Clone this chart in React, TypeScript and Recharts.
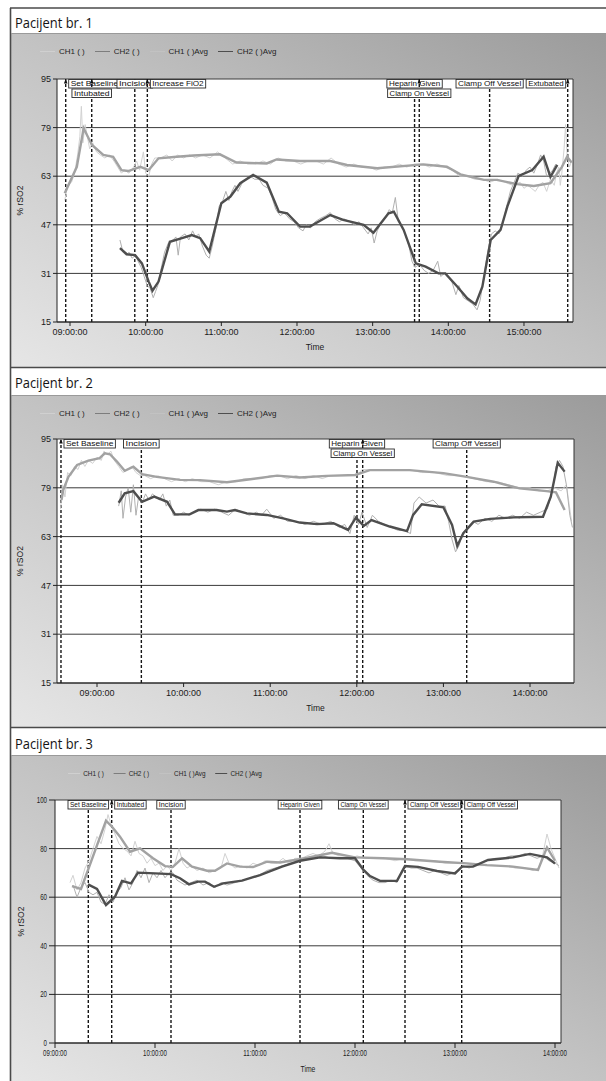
import React from "react";
import { LineChart, Line, XAxis, YAxis, CartesianGrid, ReferenceLine } from "recharts";

type Pt = [number, number];
type Ev = [number, string];

// time in decimal hours, value in % rSO2

// Pacijent br. 1
const p1Ch1Raw: Pt[] = [
  [8.93, 55], [8.97, 60], [9.02, 61], [9.06, 64], [9.1, 70], [9.13, 76], [9.15, 86], [9.17, 74], [9.2, 80],
  [9.23, 76], [9.26, 72], [9.3, 74], [9.35, 71], [9.4, 70], [9.46, 69], [9.52, 70], [9.58, 68], [9.63, 66],
  [9.68, 64], [9.72, 65], [9.78, 64], [9.84, 66], [9.88, 68], [9.92, 65], [9.97, 71], [10.0, 64], [10.04, 63],
  [10.08, 67], [10.12, 69], [10.2, 69], [10.28, 70], [10.35, 68], [10.42, 70], [10.5, 69], [10.58, 70],
  [10.66, 69], [10.75, 70], [10.85, 69], [10.95, 71], [11.05, 69], [11.15, 67], [11.25, 68], [11.35, 67],
  [11.45, 67], [11.55, 68], [11.65, 67], [11.75, 69], [11.85, 68], [11.95, 68], [12.05, 67], [12.15, 68],
  [12.25, 68], [12.35, 67], [12.45, 69], [12.55, 67], [12.65, 66], [12.75, 67], [12.85, 66], [12.95, 66],
  [13.05, 65], [13.15, 66], [13.25, 66], [13.35, 67], [13.45, 66], [13.55, 67], [13.65, 67], [13.75, 66],
  [13.85, 67], [13.95, 66], [14.05, 65], [14.15, 63], [14.25, 63], [14.35, 62], [14.45, 62], [14.55, 61],
  [14.65, 62], [14.75, 61], [14.85, 60], [14.95, 61], [15.0, 59], [15.05, 60], [15.1, 59], [15.15, 58],
  [15.2, 60], [15.25, 61], [15.3, 58], [15.35, 62], [15.4, 60], [15.43, 64], [15.46, 66], [15.48, 60],
  [15.5, 64], [15.53, 72], [15.55, 80], [15.57, 70], [15.6, 66], [15.63, 68],
];
const p1Ch2Raw: Pt[] = [
  [9.66, 42], [9.7, 38], [9.74, 37], [9.78, 38], [9.82, 36], [9.87, 37], [9.9, 35], [9.94, 33], [9.98, 30],
  [10.02, 27], [10.06, 26], [10.1, 23], [10.13, 25], [10.16, 27], [10.2, 32], [10.25, 38], [10.3, 41],
  [10.36, 42], [10.4, 43], [10.43, 37], [10.46, 43], [10.52, 44], [10.57, 42], [10.62, 45], [10.66, 43],
  [10.7, 44], [10.75, 40], [10.8, 37], [10.84, 36], [10.88, 40], [10.93, 46], [10.97, 53], [11.02, 55],
  [11.06, 58], [11.1, 55], [11.14, 58], [11.18, 60], [11.22, 58], [11.28, 61], [11.33, 62], [11.38, 63],
  [11.44, 62], [11.5, 62], [11.55, 60], [11.62, 59], [11.67, 56], [11.72, 52], [11.78, 50], [11.83, 51],
  [11.9, 49], [11.96, 48], [12.02, 46], [12.08, 45], [12.12, 47], [12.18, 46], [12.24, 48], [12.3, 49],
  [12.38, 50], [12.44, 51], [12.5, 49], [12.56, 48], [12.62, 49], [12.7, 48], [12.76, 47], [12.82, 48],
  [12.88, 46], [12.94, 44], [12.98, 46], [13.02, 41], [13.06, 45], [13.12, 48], [13.18, 50], [13.22, 52],
  [13.26, 51], [13.3, 56], [13.34, 48], [13.38, 47], [13.43, 44], [13.48, 40], [13.52, 35], [13.56, 33],
  [13.62, 34], [13.68, 32], [13.74, 31], [13.8, 32], [13.86, 35], [13.9, 30], [13.95, 31], [14.0, 30],
  [14.05, 28], [14.1, 24], [14.14, 27], [14.2, 23], [14.26, 22], [14.32, 21], [14.38, 19], [14.42, 22],
  [14.47, 30], [14.52, 38], [14.57, 44], [14.62, 45], [14.67, 44], [14.72, 47], [14.76, 52], [14.82, 58],
  [14.87, 61], [14.92, 64], [14.98, 63], [15.03, 65], [15.08, 66], [15.13, 64], [15.18, 67], [15.22, 70],
  [15.26, 68], [15.3, 63], [15.34, 64], [15.38, 65], [15.42, 67],
];
const p1Ch1Avg: Pt[] = [
  [8.93, 57.4], [9.09, 66.1], [9.18, 78.8], [9.29, 73.3], [9.44, 70.0], [9.57, 69.4], [9.68, 65.0],
  [9.77, 64.7], [9.93, 66.1], [10.04, 65.0], [10.17, 68.9], [10.41, 69.4], [10.63, 69.8], [10.98, 70.2],
  [11.2, 67.5], [11.6, 67.2], [11.73, 68.5], [12.04, 68.0], [12.44, 68.0], [12.66, 66.7], [13.06, 65.6],
  [13.67, 66.9], [13.98, 66.1], [14.16, 63.6], [14.47, 61.8], [14.64, 61.8], [14.91, 60.4], [15.13, 59.8],
  [15.35, 60.7], [15.5, 66.0], [15.57, 69.4], [15.63, 67.5],
];
const p1Ch2Avg: Pt[] = [
  [9.66, 39.3], [9.75, 37.3], [9.86, 37.0], [9.95, 34.3], [10.04, 28.3], [10.09, 25.3], [10.17, 28.3],
  [10.32, 41.4], [10.48, 42.6], [10.61, 43.6], [10.72, 42.6], [10.84, 38.2], [11.0, 54.1], [11.12, 56.3],
  [11.25, 60.7], [11.42, 63.4], [11.6, 60.9], [11.76, 51.3], [11.87, 50.8], [12.04, 46.4], [12.17, 46.4],
  [12.44, 50.2], [12.61, 48.6], [12.88, 47.0], [13.01, 44.4], [13.21, 50.8], [13.28, 51.3], [13.41, 45.3],
  [13.57, 34.3], [13.7, 33.2], [13.87, 31.0], [13.96, 31.0], [14.12, 26.6], [14.25, 22.8], [14.36, 20.8],
  [14.45, 26.6], [14.56, 42.0], [14.69, 45.3], [14.78, 53.0], [14.93, 63.1], [15.11, 65.0], [15.26, 69.4],
  [15.35, 62.8], [15.44, 66.7],
];
const p1Events: Ev[] = [
  [8.943, "Set Baseline"], [9.287, "Intubated"], [9.856, "Incision"], [10.022, "Increase FiO2"],
  [13.554, "Heparin Given"], [13.616, "Clamp On Vessel"], [14.546, "Clamp Off Vessel"], [15.578, "Extubated"],
];
const p1Hours = [9, 10, 11, 12, 13, 14, 15];
const p1YTicks = [15, 31, 47, 63, 79, 95];

// Pacijent br. 2
const p2Ch1Raw: Pt[] = [
  [8.58, 72], [8.6, 80], [8.63, 76], [8.66, 84], [8.7, 83], [8.74, 86], [8.78, 85], [8.82, 88], [8.86, 86],
  [8.9, 88], [8.95, 87], [9.0, 89], [9.05, 88], [9.08, 91], [9.12, 90], [9.16, 91], [9.2, 88], [9.25, 86],
  [9.3, 84], [9.35, 85], [9.4, 86], [9.45, 84], [9.5, 83], [9.55, 83], [9.62, 82], [9.7, 83], [9.78, 82],
  [9.86, 81], [9.94, 82], [10.02, 81], [10.1, 82], [10.2, 81], [10.3, 81], [10.4, 80], [10.5, 81], [10.6, 81],
  [10.7, 82], [10.8, 82], [10.9, 82], [11.0, 83], [11.1, 83], [11.2, 82], [11.3, 83], [11.4, 82], [11.5, 83],
  [11.6, 82], [11.7, 83], [11.8, 83], [11.9, 83], [12.0, 83], [12.06, 85], [12.15, 85], [12.3, 85],
  [12.45, 85], [12.6, 85], [12.75, 84], [12.9, 84], [13.05, 83], [13.2, 83], [13.35, 82], [13.5, 81],
  [13.62, 81], [13.75, 80], [13.88, 79], [14.0, 79], [14.1, 78], [14.2, 78], [14.28, 79], [14.36, 78],
  [14.42, 80], [14.45, 74], [14.48, 68],
];
const p2Ch2Raw: Pt[] = [
  [9.25, 73], [9.28, 78], [9.3, 69], [9.33, 76], [9.36, 79], [9.39, 71], [9.42, 80], [9.45, 70], [9.48, 76],
  [9.52, 74], [9.56, 77], [9.6, 75], [9.64, 77], [9.68, 76], [9.72, 75], [9.76, 77], [9.8, 73], [9.84, 75],
  [9.88, 70], [9.94, 70], [10.0, 71], [10.06, 70], [10.12, 71], [10.2, 72], [10.28, 71], [10.36, 72],
  [10.44, 71], [10.52, 70], [10.6, 72], [10.68, 71], [10.76, 70], [10.84, 71], [10.9, 70], [10.96, 72],
  [11.04, 69], [11.12, 70], [11.2, 68], [11.3, 68], [11.4, 67], [11.5, 68], [11.6, 67], [11.7, 68],
  [11.8, 66], [11.86, 67], [11.92, 64], [11.97, 70], [12.02, 67], [12.06, 71], [12.12, 66], [12.18, 70],
  [12.25, 68], [12.32, 67], [12.4, 66], [12.48, 65], [12.55, 65], [12.62, 64], [12.66, 74], [12.72, 76],
  [12.8, 74], [12.88, 75], [12.95, 73], [13.02, 73], [13.06, 68], [13.1, 62], [13.14, 58], [13.18, 60],
  [13.22, 64], [13.28, 66], [13.34, 68], [13.4, 67], [13.48, 69], [13.56, 68], [13.64, 70], [13.72, 69],
  [13.8, 70], [13.88, 69], [13.96, 71], [14.04, 70], [14.12, 71], [14.2, 72], [14.26, 78], [14.3, 86],
  [14.34, 88], [14.38, 86], [14.42, 80], [14.46, 70], [14.49, 66],
];
const p2Ch1Avg: Pt[] = [
  [8.59, 75.0], [8.61, 78.3], [8.67, 82.6], [8.77, 86.5], [8.9, 87.9], [9.03, 88.7], [9.09, 90.3],
  [9.15, 90.0], [9.23, 87.6], [9.32, 84.6], [9.42, 85.9], [9.52, 83.5], [9.69, 82.6], [9.96, 81.6],
  [10.19, 81.5], [10.5, 80.8], [10.77, 81.8], [11.08, 83.0], [11.34, 82.4], [11.65, 82.9], [11.98, 83.2],
  [12.15, 84.8], [12.61, 84.8], [13.0, 83.8], [13.27, 82.6], [13.58, 81.0], [13.88, 78.8], [14.19, 77.9],
  [14.3, 77.5], [14.4, 71.7],
];
const p2Ch2Avg: Pt[] = [
  [9.25, 74.1], [9.32, 77.2], [9.42, 77.9], [9.52, 74.4], [9.66, 76.1], [9.81, 74.4], [9.9, 70.3],
  [10.07, 70.3], [10.17, 71.7], [10.38, 71.7], [10.5, 71.2], [10.59, 71.7], [10.73, 70.6], [10.96, 70.1],
  [11.15, 69.0], [11.34, 67.6], [11.54, 67.1], [11.73, 67.4], [11.9, 65.2], [11.99, 69.2], [12.08, 66.5],
  [12.17, 68.4], [12.38, 66.3], [12.58, 64.8], [12.65, 70.1], [12.75, 73.6], [13.0, 72.6], [13.1, 66.8],
  [13.16, 59.9], [13.23, 64.1], [13.35, 67.9], [13.54, 68.8], [13.81, 69.3], [14.15, 69.5], [14.24, 76.1],
  [14.32, 87.2], [14.4, 84.3],
];
const p2Events: Ev[] = [
  [8.584, "Set Baseline"], [9.512, "Incision"], [12.002, "Heparin Given"], [12.068, "Clamp On Vessel"],
  [13.269, "Clamp Off Vessel"],
];
const p2Hours = [9, 10, 11, 12, 13, 14];
const p2YTicks = [15, 31, 47, 63, 79, 95];

// Pacijent br. 3
const p3Ch1Raw: Pt[] = [
  [9.15, 66], [9.18, 69], [9.22, 63], [9.26, 66], [9.3, 72], [9.34, 75], [9.38, 80], [9.42, 85], [9.46, 82],
  [9.5, 88], [9.53, 94], [9.56, 90], [9.6, 86], [9.64, 82], [9.68, 80], [9.72, 79], [9.76, 77], [9.8, 83],
  [9.84, 78], [9.88, 77], [9.92, 74], [9.96, 76], [10.0, 73], [10.04, 74], [10.08, 71], [10.12, 73],
  [10.16, 71], [10.2, 74], [10.24, 80], [10.28, 74], [10.32, 72], [10.36, 73], [10.42, 71], [10.48, 72],
  [10.54, 70], [10.6, 71], [10.66, 72], [10.7, 78], [10.74, 74], [10.8, 72], [10.86, 73], [10.92, 72],
  [10.98, 74], [11.04, 73], [11.1, 75], [11.16, 74], [11.22, 74], [11.28, 76], [11.34, 74], [11.4, 76],
  [11.46, 76], [11.52, 77], [11.58, 78], [11.64, 77], [11.7, 79], [11.74, 82], [11.78, 78], [11.84, 77],
  [11.9, 77], [11.96, 76], [12.02, 77], [12.1, 76], [12.2, 76], [12.3, 76], [12.4, 75], [12.5, 76],
  [12.6, 75], [12.7, 75], [12.8, 75], [12.9, 74], [13.0, 74], [13.1, 74], [13.2, 73], [13.3, 73], [13.4, 73],
  [13.5, 73], [13.6, 72], [13.7, 72], [13.78, 71], [13.84, 72], [13.88, 78], [13.92, 86], [13.96, 80],
  [14.0, 76], [14.04, 72],
];
const p3Ch2Raw: Pt[] = [
  [9.18, 65], [9.22, 60], [9.26, 64], [9.3, 66], [9.34, 62], [9.38, 61], [9.42, 62], [9.46, 58], [9.5, 57],
  [9.54, 61], [9.58, 58], [9.62, 62], [9.66, 64], [9.7, 68], [9.74, 63], [9.78, 66], [9.82, 71], [9.86, 68],
  [9.9, 72], [9.94, 66], [9.98, 70], [10.02, 68], [10.06, 71], [10.1, 68], [10.14, 70], [10.18, 70],
  [10.22, 67], [10.26, 66], [10.3, 65], [10.36, 66], [10.42, 67], [10.48, 65], [10.54, 66], [10.6, 64],
  [10.66, 66], [10.72, 65], [10.8, 66], [10.88, 67], [10.96, 68], [11.04, 69], [11.12, 71], [11.2, 72],
  [11.28, 73], [11.36, 74], [11.44, 75], [11.52, 76], [11.6, 76], [11.68, 77], [11.76, 76], [11.84, 76],
  [11.92, 76], [12.0, 75], [12.04, 73], [12.08, 71], [12.12, 69], [12.18, 67], [12.24, 66], [12.3, 66],
  [12.36, 67], [12.42, 66], [12.46, 70], [12.5, 73], [12.56, 72], [12.62, 72], [12.68, 71], [12.74, 70],
  [12.8, 71], [12.86, 70], [12.92, 69], [12.98, 70], [13.04, 71], [13.08, 73], [13.14, 72], [13.2, 73],
  [13.26, 74], [13.32, 75], [13.4, 76], [13.48, 76], [13.56, 77], [13.64, 77], [13.7, 78], [13.76, 77],
  [13.82, 76], [13.88, 77], [13.94, 75], [14.0, 74], [14.04, 73],
];
const p3Ch1Avg: Pt[] = [
  [9.17, 64.6], [9.26, 63.4], [9.33, 71.2], [9.51, 91.5], [9.57, 89.0], [9.65, 84.9], [9.75, 78.7],
  [9.85, 80.1], [9.98, 76.0], [10.1, 72.8], [10.18, 72.5], [10.27, 76.0], [10.37, 72.6], [10.52, 70.9],
  [10.6, 70.9], [10.72, 73.9], [10.85, 72.6], [10.98, 72.4], [11.12, 74.6], [11.25, 74.3], [11.35, 75.0],
  [11.45, 75.6], [11.77, 78.3], [12.0, 76.4], [12.28, 76.0], [12.52, 75.6], [12.85, 74.6], [13.12, 73.9],
  [13.32, 73.2], [13.58, 72.6], [13.83, 71.2], [13.92, 80.5], [14.0, 75.0],
];
const p3Ch2Avg: Pt[] = [
  [9.33, 65.3], [9.42, 63.4], [9.51, 56.8], [9.6, 60.2], [9.67, 66.7], [9.76, 65.7], [9.83, 70.1],
  [10.0, 69.8], [10.16, 69.5], [10.25, 67.8], [10.34, 65.3], [10.43, 66.4], [10.5, 66.4], [10.59, 64.3],
  [10.68, 65.7], [10.87, 66.8], [11.05, 69.1], [11.27, 72.6], [11.45, 75.0], [11.65, 76.4], [11.85, 76.0],
  [12.0, 76.0], [12.08, 71.5], [12.15, 68.7], [12.25, 66.7], [12.42, 66.7], [12.5, 72.8], [12.63, 72.5],
  [12.82, 70.8], [13.0, 69.8], [13.07, 72.6], [13.18, 72.6], [13.33, 75.3], [13.58, 76.4], [13.75, 77.8],
  [13.92, 76.4], [14.0, 73.9],
];
const p3Events: Ev[] = [
  [9.333, "Set Baseline"], [9.567, "Intubated"], [10.16, "Incision"], [11.45, "Heparin Given"],
  [12.083, "Clamp On Vessel"], [12.5, "Clamp Off Vessel"], [13.067, "Clamp Off Vessel"],
];
const p3Hours = [9, 10, 11, 12, 13, 14];
const p3YTicks = [0, 20, 40, 60, 80, 100];

const legendNames = ["CH1 ( )", "CH2 ( )", "CH1 ( )Avg", "CH2 ( )Avg"];

// tag placement (relative to each dashed line) and row of the tag
const p1TagAlign = ["left", "center", "center", "left", "center", "center", "center", "right"];
const p1TagRow = [0, 1, 0, 0, 0, 1, 0, 0];
const p2TagAlign = ["left", "center", "center", "center", "center"];
const p2TagRow = [0, 0, 0, 1, 0];
const p3TagAlign = ["center", "left", "center", "center", "center", "left", "left"];
const p3TagRow = [0, 0, 0, 0, 0, 0, 0];

const FONT = "'Liberation Sans', Arial, sans-serif";
const LINE = {
  ch1Raw: "#d2d2d2",
  ch2Raw: "#b0b0b0",
  ch1Avg: "#a2a2a2",
  ch2Avg: "#4e4e4e",
};
const swatch = ["#d0d0d0", "#7d7d7d", "#c2c2c2", "#4e4e4e"];

const rows = (pts: Pt[]) => pts.map(([t, v]) => ({ t, v }));
const hms = (h: number) => `${String(h).padStart(2, "0")}:00:00`;

function AxisTick(props: any) {
  const { x, y, payload, horizontal, sx, fs } = props;
  const txt = horizontal ? hms(payload.value) : String(payload.value);
  return (
    <g transform={`translate(${x},${y})`}>
      <text
        transform={`scale(${sx},1)`}
        textAnchor={horizontal ? "middle" : "end"}
        dy={horizontal ? "0.75em" : "0.35em"}
        fontSize={fs}
        fontFamily={FONT}
        fill="#1b1b1b"
      >
        {txt}
      </text>
    </g>
  );
}

function EventTag(props: any) {
  const { viewBox, text, align, row, narrow } = props;
  if (!viewBox) return null;
  const x = viewBox.x;
  const top = viewBox.y;
  const w = narrow ? text.length * 3.05 + 4 : text.length * 3.95 + 4;
  const h = 8.5;
  let bx = x - w / 2;
  if (align === "left") bx = x + 3;
  if (align === "right") bx = x - w - 2;
  const by = top + 0.5 + row * (h + 1);
  return (
    <g>
      <path d={`M${x},${top} L${x - 1.8},${top + 4.5} L${x + 1.8},${top + 4.5} Z`} fill="#111" />
      <rect x={bx} y={by} width={w} height={h} fill="#fff" stroke="#2a2a2a" strokeWidth={0.9} />
      <text
        x={bx + w / 2}
        y={by + h - 1.8}
        textAnchor="middle"
        fontSize={7.5}
        fontFamily={FONT}
        fill="#111"
        textLength={w - 4}
        lengthAdjust="spacingAndGlyphs"
      >
        {text}
      </text>
    </g>
  );
}

function XTitle(props: any) {
  const { viewBox, narrow } = props;
  if (!viewBox) return null;
  const cx = viewBox.x + viewBox.width / 2;
  const cy = viewBox.y + viewBox.height - 2;
  return (
    <text
      x={cx}
      y={cy}
      textAnchor="middle"
      fontSize={8.5}
      fontFamily={FONT}
      fill="#1b1b1b"
      transform={narrow ? `translate(${cx},0) scale(0.8,1) translate(${-cx},0)` : undefined}
    >
      Time
    </text>
  );
}

function YTitle(props: any) {
  const { viewBox, dx } = props;
  if (!viewBox) return null;
  const cx = viewBox.x + dx;
  const cy = viewBox.y + viewBox.height / 2;
  return (
    <text
      x={cx}
      y={cy}
      transform={`rotate(-90 ${cx} ${cy})`}
      textAnchor="middle"
      dominantBaseline="central"
      fontSize={8.5}
      fontFamily={FONT}
      fill="#1b1b1b"
    >
      % rSO2
    </text>
  );
}

function LegendRow({ left, top, narrow }: { left: number; top: number; narrow?: boolean }) {
  return (
    <div
      style={{
        position: "absolute",
        left,
        top: top - 5,
        height: 10,
        display: "flex",
        alignItems: "center",
        fontFamily: FONT,
        fontSize: 8,
        color: "#1e1e1e",
        whiteSpace: "nowrap",
        transform: narrow ? "scaleX(0.8)" : undefined,
        transformOrigin: "0 50%",
      }}
    >
      {legendNames.map((n, i) => (
        <span key={n} style={{ display: "flex", alignItems: "center", marginRight: narrow ? 12 : 10 }}>
          <span style={{ width: 15, borderTop: `1.5px solid ${swatch[i]}`, marginRight: 4 }} />
          {n}
        </span>
      ))}
    </div>
  );
}

interface PanelProps {
  top: number;
  height: number;
  margin: { top: number; right: number; left: number; bottom: number };
  xDomain: [number, number];
  hours: number[];
  yDomain: [number, number];
  yTicks: number[];
  raw1: Pt[];
  raw2: Pt[];
  avg1: Pt[];
  avg2: Pt[];
  events: Ev[];
  tagAlign: string[];
  tagRow: number[];
  xHeight: number;
  tickSize: number;
  narrow?: boolean;
}

function Panel(p: PanelProps) {
  const sx = p.narrow ? 0.72 : 1;
  const fs = p.narrow ? 8.5 : 9;
  return (
    <div style={{ position: "absolute", left: 0, top: p.top }}>
      <LineChart width={606} height={p.height} margin={p.margin}>
        <CartesianGrid vertical={false} stroke="#3a3a3a" strokeWidth={1} fill="#ffffff" fillOpacity={1} />
        <XAxis
          dataKey="t"
          type="number"
          domain={p.xDomain}
          ticks={p.hours}
          interval={0}
          allowDataOverflow
          height={p.xHeight}
          tickSize={p.tickSize}
          tickMargin={2}
          axisLine={{ stroke: "#222" }}
          tickLine={{ stroke: "#222" }}
          tick={(t: any) => <AxisTick {...t} horizontal sx={sx} fs={fs} />}
          label={<XTitle narrow={p.narrow} />}
        />
        <YAxis
          type="number"
          domain={p.yDomain}
          ticks={p.yTicks}
          interval={0}
          allowDataOverflow
          width={45}
          tickSize={p.tickSize + (p.narrow ? 1 : 0)}
          tickMargin={2}
          axisLine={{ stroke: "#222" }}
          tickLine={{ stroke: "#222" }}
          tick={(t: any) => <AxisTick {...t} sx={sx} fs={fs} />}
          label={<YTitle dx={p.narrow ? 11 : 8} />}
        />
        <ReferenceLine x={p.xDomain[1]} stroke="#333" strokeWidth={1} />
        {p.events.map(([t, name], i) => (
          <ReferenceLine
            key={`${name}-${i}`}
            x={t}
            stroke="#151515"
            strokeWidth={1.4}
            strokeDasharray="3 2"
            label={<EventTag text={name} align={p.tagAlign[i]} row={p.tagRow[i]} narrow={p.narrow} />}
          />
        ))}
        <Line data={rows(p.raw1)} dataKey="v" type="linear" dot={false} stroke={LINE.ch1Raw} strokeWidth={1} isAnimationActive={false} />
        <Line data={rows(p.raw2)} dataKey="v" type="linear" dot={false} stroke={LINE.ch2Raw} strokeWidth={1} isAnimationActive={false} />
        <Line data={rows(p.avg1)} dataKey="v" type="linear" dot={false} stroke={LINE.ch1Avg} strokeWidth={2.4} isAnimationActive={false} />
        <Line data={rows(p.avg2)} dataKey="v" type="linear" dot={false} stroke={LINE.ch2Avg} strokeWidth={2.4} isAnimationActive={false} />
      </LineChart>
    </div>
  );
}

const grayBg = "linear-gradient(to bottom left, #9b9b9b 0%, #c3c3c3 50%, #e6e6e6 100%)";

function Title({ y, text }: { y: number; text: string }) {
  return (
    <text x={15} y={y} fontSize={14.5} fontFamily="'Open Sans', 'Noto Sans', sans-serif" fill="#141414" textLength={78} lengthAdjust="spacingAndGlyphs">
      {text}
    </text>
  );
}

export default function App() {
  return (
    <div style={{ position: "absolute", left: 0, top: 0, width: 606, height: 1081, background: "#fff", overflow: "hidden" }}>
      <div style={{ position: "absolute", left: 11, top: 33, width: 595, height: 334, background: grayBg }} />
      <div style={{ position: "absolute", left: 11, top: 395, width: 595, height: 332, background: grayBg }} />
      <div style={{ position: "absolute", left: 11, top: 755, width: 595, height: 326, background: grayBg }} />
      <svg width={606} height={1081} style={{ position: "absolute", left: 0, top: 0 }}>
        <line x1={10.5} y1={8} x2={10.5} y2={1081} stroke="#4a4a4a" strokeWidth={1.6} />
        <line x1={10} y1={8} x2={606} y2={8} stroke="#4a4a4a" strokeWidth={1.5} />
        <line x1={10} y1={367.5} x2={606} y2={367.5} stroke="#4a4a4a" strokeWidth={1.5} />
        <line x1={10} y1={727.5} x2={606} y2={727.5} stroke="#4a4a4a" strokeWidth={1.5} />
        <line x1={11} y1={33.5} x2={606} y2={33.5} stroke="#9a9a9a" strokeWidth={1} />
        <line x1={11} y1={395.5} x2={606} y2={395.5} stroke="#9a9a9a" strokeWidth={1} />
        <line x1={11} y1={755.5} x2={606} y2={755.5} stroke="#9a9a9a" strokeWidth={1} />
        <Title y={28} text="Pacijent br. 1" />
        <Title y={388} text="Pacijent br. 2" />
        <Title y={749} text="Pacijent br. 3" />
      </svg>
      <Panel
        top={33}
        height={334}
        margin={{ top: 46, right: 33, left: 12, bottom: 15 }}
        xDomain={[8.828, 15.648]}
        hours={p1Hours}
        yDomain={[15, 95]}
        yTicks={p1YTicks}
        raw1={p1Ch1Raw}
        raw2={p1Ch2Raw}
        avg1={p1Ch1Avg}
        avg2={p1Ch2Avg}
        events={p1Events}
        tagAlign={p1TagAlign}
        tagRow={p1TagRow}
        xHeight={30}
        tickSize={4}
      />
      <Panel
        top={395}
        height={332}
        margin={{ top: 44, right: 32, left: 12, bottom: 14 }}
        xDomain={[8.538, 14.508]}
        hours={p2Hours}
        yDomain={[15, 95]}
        yTicks={p2YTicks}
        raw1={p2Ch1Raw}
        raw2={p2Ch2Raw}
        avg1={p2Ch1Avg}
        avg2={p2Ch2Avg}
        events={p2Events}
        tagAlign={p2TagAlign}
        tagRow={p2TagRow}
        xHeight={30}
        tickSize={4}
      />
      <Panel
        top={755}
        height={326}
        margin={{ top: 45, right: 45, left: 10, bottom: 7 }}
        xDomain={[9, 14.06]}
        hours={p3Hours}
        yDomain={[0, 100]}
        yTicks={p3YTicks}
        raw1={p3Ch1Raw}
        raw2={p3Ch2Raw}
        avg1={p3Ch1Avg}
        avg2={p3Ch2Avg}
        events={p3Events}
        tagAlign={p3TagAlign}
        tagRow={p3TagRow}
        xHeight={31}
        tickSize={5}
        narrow
      />
      <LegendRow left={40} top={51} />
      <LegendRow left={40} top={413} />
      <LegendRow left={68} top={773} narrow />
    </div>
  );
}
